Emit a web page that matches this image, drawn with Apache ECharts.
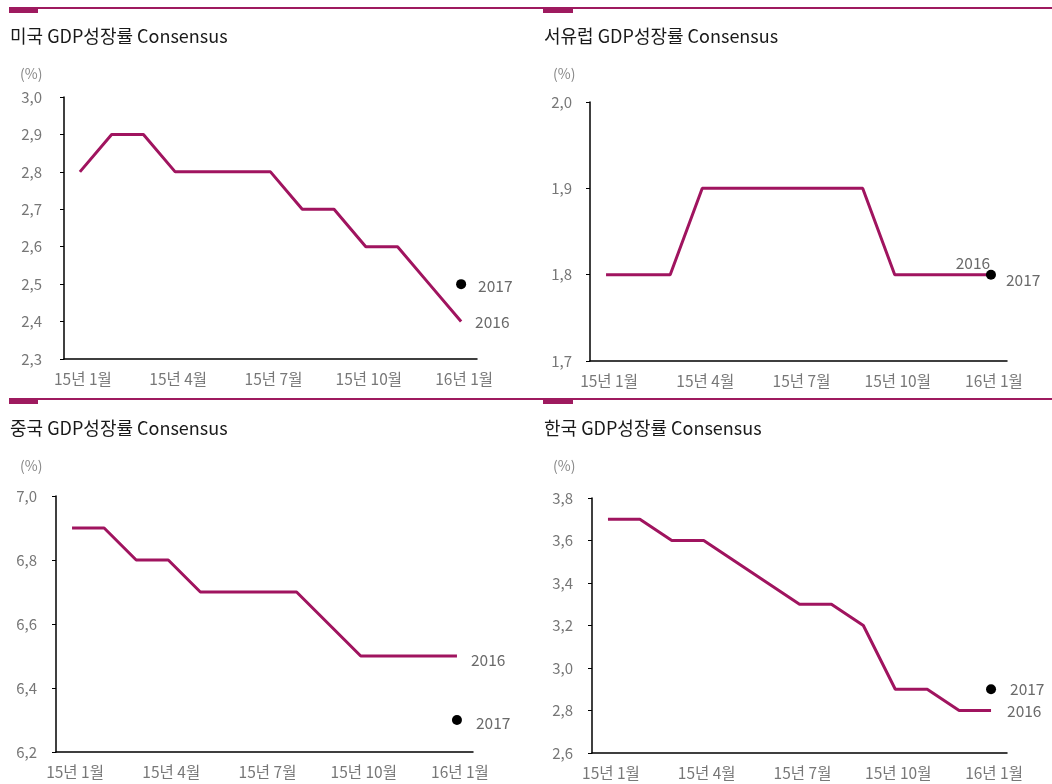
<!DOCTYPE html>
<html>
<head>
<meta charset="utf-8">
<script src="https://cdn.jsdelivr.net/npm/echarts@6/dist/echarts.min.js"></script>
<style>
html,body{margin:0;padding:0;background:#fff;}
#chart{width:1052px;height:784px;}
</style>
</head>
<body>
<div id="chart"></div>
<script>
const categories = ['15년 1월','15년 2월','15년 3월','15년 4월','15년 5월','15년 6월','15년 7월','15년 8월','15년 9월','15년 10월','15년 11월','15년 12월','16년 1월'];
const titles = ['미국 GDP성장률 Consensus','서유럽 GDP성장률 Consensus','중국 GDP성장률 Consensus','한국 GDP성장률 Consensus'];
const usa2016 = [2.8,2.9,2.9,2.8,2.8,2.8,2.8,2.7,2.7,2.6,2.6,2.5,2.4];
const usa2017 = 2.5;
const weu2016 = [1.8,1.8,1.8,1.9,1.9,1.9,1.9,1.9,1.9,1.8,1.8,1.8,1.8];
const weu2017 = 1.8;
const chn2016 = [6.9,6.9,6.8,6.8,6.7,6.7,6.7,6.7,6.6,6.5,6.5,6.5,6.5];
const chn2017 = 6.3;
const kor2016 = [3.7,3.7,3.6,3.6,3.5,3.4,3.3,3.3,3.2,2.9,2.9,2.8,2.8];
const kor2017 = 2.9;
const yMin = [2.3, 1.7, 6.2, 2.6];
const yMax = [3.0, 2.0, 7.0, 3.8];
const yStep = [0.1, 0.1, 0.2, 0.2];
const seriesNames = ['2016','2017'];

const FONT = '"Noto Sans CJK KR", sans-serif';
const LINE_COLOR = '#A0145F';
const BAR_COLOR = '#9E1A5F';

const grids = [
  {left:64, top:97, width:413, height:262},
  {left:590, top:102, width:417, height:259},
  {left:56, top:496, width:417, height:256},
  {left:592, top:498, width:415, height:255}
];
const labelMargins = [22, 18, 19, 19];
const line16 = [usa2016, weu2016, chn2016, kor2016];
const dot17 = [usa2017, weu2017, chn2017, kor2017];
// label placement for the end annotations [2016 label, 2017 label]
const labelCfg = [
  [{position:'right', distance:14, offset:[0,1]}, {position:'right', distance:12, offset:[0,2]}],
  [{position:'top', distance:2, offset:[-18,-2]}, {position:'right', distance:10, offset:[0,5]}],
  [{position:'right', distance:14, offset:[0,4]}, {position:'right', distance:14, offset:[0,3]}],
  [{position:'right', distance:16, offset:[0,1]}, {position:'right', distance:14, offset:[0,0]}]
];
const annoStyle = {show:true, color:'#6a6a6a', fontSize:15.5, fontFamily:FONT};

const xAxes = grids.map((g,i)=>({
  type:'category', gridIndex:i, data:categories, boundaryGap:true,
  axisLine:{lineStyle:{color:'#000', width:1.5}},
  axisTick:{interval:2, length:4, lineStyle:{color:'#000'}},
  axisLabel:{interval:2, color:'#777', fontSize:15.5, fontFamily:FONT, margin:12, padding:[0,0,0,6]}
}));
const yAxes = grids.map((g,i)=>({
  type:'value', gridIndex:i, min:yMin[i], max:yMax[i], interval:yStep[i],
  splitLine:{show:false},
  axisLine:{show:true, lineStyle:{color:'#000', width:1.5}},
  axisTick:{show:true, length:4, lineStyle:{color:'#000'}},
  axisLabel:{color:'#777', fontSize:15, fontFamily:FONT, margin:labelMargins[i],
    formatter:v=>v.toFixed(1).replace('.', ',')}
}));

const series = [];
line16.forEach((arr,i)=>{
  const last = arr.length-1;
  series.push({
    name:seriesNames[0], type:'line', xAxisIndex:i, yAxisIndex:i,
    data:arr.map((v,k)=> k===last ? {value:v, label:Object.assign({formatter:seriesNames[0]}, annoStyle, labelCfg[i][0])} : v),
    symbol:'circle', symbolSize:0.01, showSymbol:true, itemStyle:{color:LINE_COLOR},
    lineStyle:{color:LINE_COLOR, width:3}, animation:false, z:2
  });
  series.push({
    name:seriesNames[1], type:'scatter', xAxisIndex:i, yAxisIndex:i,
    data:[{value:[categories[last], dot17[i]], label:Object.assign({formatter:seriesNames[1]}, annoStyle, labelCfg[i][1])}],
    symbol:'circle', symbolSize:10, itemStyle:{color:'#000', opacity:1}, animation:false, z:3
  });
});

const titleCfg = [
  {left:10, top:27}, {left:544, top:27}, {left:10, top:419}, {left:544, top:419}
];
const title = titles.map((t,i)=>({text:t, left:titleCfg[i].left, top:titleCfg[i].top, padding:0,
  textStyle:{fontSize:18, fontWeight:'normal', color:'#1a1a1a', fontFamily:FONT}}));

const pctPos = [[20,67],[553,67],[20,459],[553,459]];
const graphic = [
  {type:'rect', shape:{x:9, y:7, width:1043, height:2}, style:{fill:BAR_COLOR}},
  {type:'rect', shape:{x:9, y:7, width:29, height:6}, style:{fill:BAR_COLOR}},
  {type:'rect', shape:{x:543, y:7, width:30, height:6}, style:{fill:BAR_COLOR}},
  {type:'rect', shape:{x:9, y:398, width:1043, height:2}, style:{fill:BAR_COLOR}},
  {type:'rect', shape:{x:9, y:398, width:29, height:6}, style:{fill:BAR_COLOR}},
  {type:'rect', shape:{x:543, y:398, width:30, height:6}, style:{fill:BAR_COLOR}}
].concat(pctPos.map(p=>({type:'text', x:p[0], y:p[1], style:{text:'(%)', fill:'#888', fontSize:14, fontFamily:FONT}})));

const chart = echarts.init(document.getElementById('chart'), null, {renderer:'canvas'});
chart.setOption({
  animation:false,
  backgroundColor:'#fff',
  title:title,
  grid:grids,
  xAxis:xAxes,
  yAxis:yAxes,
  series:series,
  graphic:graphic
});
</script>
</body>
</html>
